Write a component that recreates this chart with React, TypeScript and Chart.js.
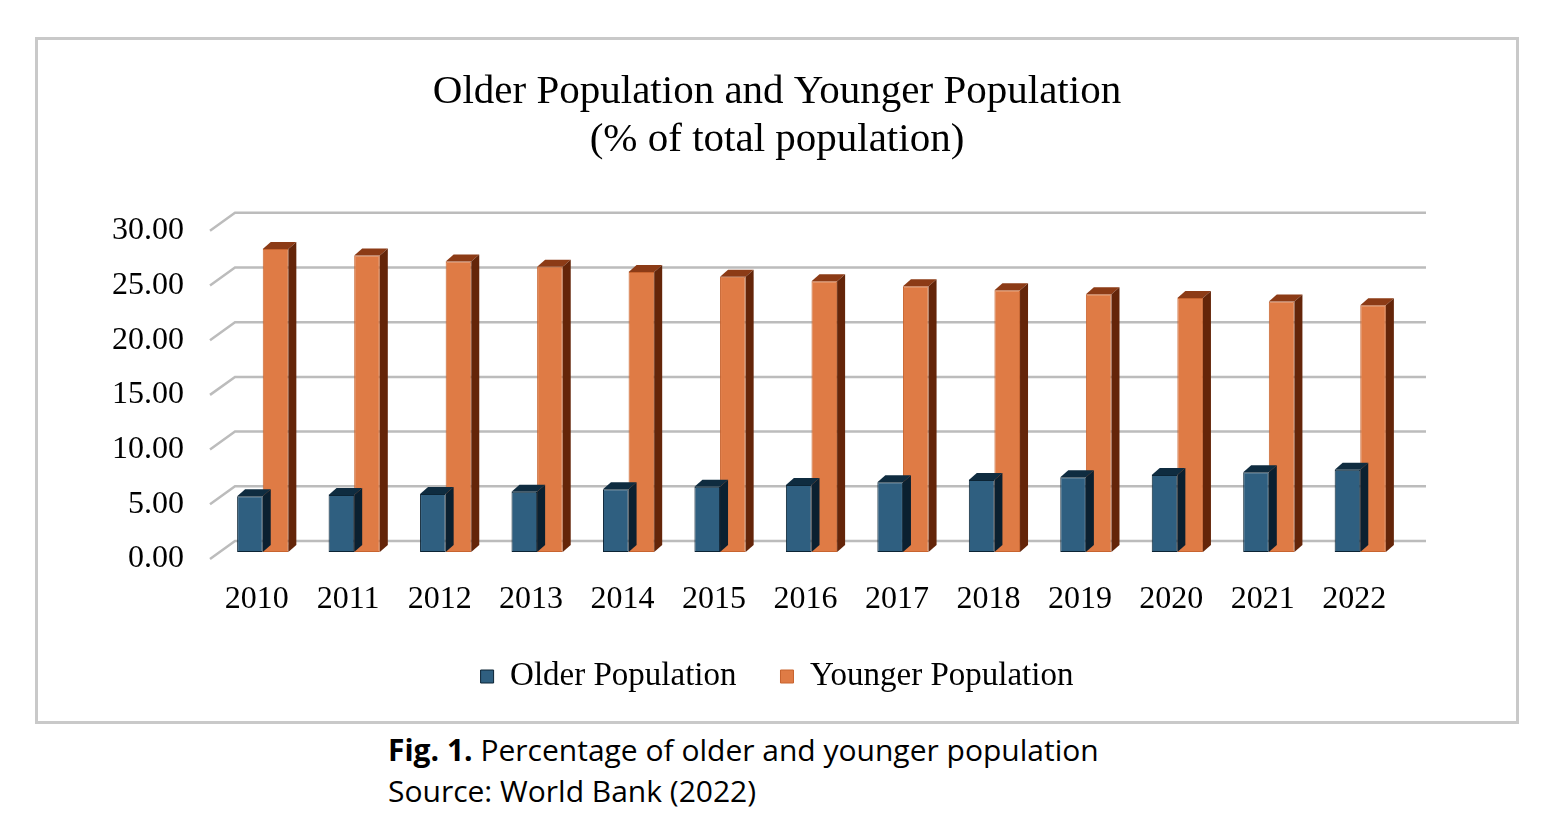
import { useEffect, useRef } from 'react'
import { Chart, BarController, BarElement, CategoryScale, LinearScale, Title, Legend } from 'chart.js'

Chart.register(BarController, BarElement, CategoryScale, LinearScale, Title, Legend);

const years = ['2010', '2011', '2012', '2013', '2014', '2015', '2016', '2017', '2018', '2019', '2020', '2021', '2022'];
const olderPopulation = [5.09, 5.22, 5.31, 5.50, 5.73, 5.97, 6.12, 6.37, 6.58, 6.83, 7.04, 7.29, 7.52];
const youngerPopulation = [27.70, 27.10, 26.55, 26.08, 25.60, 25.15, 24.75, 24.28, 23.92, 23.55, 23.22, 22.90, 22.56];
const yTicks = [0, 5, 10, 15, 20, 25, 30];

const SERIF = "'Liberation Serif', 'Times New Roman', serif";

// face colours for the fake 3D look
const faceColors = [
  { top: '#0f2c40', side: '#0b2030' },
  { top: '#8c3b16', side: '#642509' },
];

const DEPTH_X = 8;
const DEPTH_Y = -7;

const gridPlugin = {
  id: 'backWall',
  beforeDatasetsDraw(chart: Chart) {
    const { ctx, chartArea } = chart;
    const y = chart.scales.y;
    ctx.save();
    ctx.strokeStyle = '#bcbcbc';
    ctx.lineWidth = 2.5;
    for (const v of yTicks) {
      const py = y.getPixelForValue(v);
      ctx.beginPath();
      ctx.moveTo(chartArea.left - 7, py + 7);
      ctx.lineTo(chartArea.left + 18, py - 11);
      ctx.lineTo(chartArea.right + 20, py - 11);
      ctx.stroke();
    }
    ctx.restore();
  },
};

const boxPlugin = {
  id: 'bar3d',
  afterDatasetDraw(chart: Chart, args: { index: number }) {
    const { ctx } = chart;
    const meta = chart.getDatasetMeta(args.index);
    const col = faceColors[args.index];
    ctx.save();
    meta.data.forEach((el: any) => {
      const { x, y, base, width } = el.getProps(['x', 'y', 'base', 'width'], true);
      const l = x - width / 2;
      const r = x + width / 2;
      // top face
      ctx.fillStyle = col.top;
      ctx.beginPath();
      ctx.moveTo(l, y);
      ctx.lineTo(r, y);
      ctx.lineTo(r + DEPTH_X, y + DEPTH_Y);
      ctx.lineTo(l + DEPTH_X, y + DEPTH_Y);
      ctx.closePath();
      ctx.fill();
      // right side face
      ctx.fillStyle = col.side;
      ctx.beginPath();
      ctx.moveTo(r, y);
      ctx.lineTo(r + DEPTH_X, y + DEPTH_Y);
      ctx.lineTo(r + DEPTH_X, base + DEPTH_Y);
      ctx.lineTo(r, base);
      ctx.closePath();
      ctx.fill();
    });
    ctx.restore();
  },
};

function PopulationChart() {
  const canvasRef = useRef<HTMLCanvasElement>(null);
  const chartRef = useRef<Chart | null>(null);

  useEffect(() => {
    if (!canvasRef.current) return;
    chartRef.current?.destroy();
    chartRef.current = new Chart(canvasRef.current, {
      type: 'bar',
      data: {
        labels: years,
        datasets: [
          {
            label: 'Older Population',
            data: olderPopulation,
            backgroundColor: '#2f5f80',
            borderColor: '#0c2435',
            borderWidth: 1,
            borderSkipped: false,
            categoryPercentage: 0.56,
            barPercentage: 1.0,
          },
          {
            label: 'Younger Population',
            data: youngerPopulation,
            backgroundColor: '#df7b45',
            borderColor: '#c8642f',
            borderWidth: 1,
            borderSkipped: false,
            categoryPercentage: 0.56,
            barPercentage: 1.0,
          },
        ],
      },
      options: {
        responsive: true,
        maintainAspectRatio: false,
        animation: false,
        layout: { padding: { left: 0, right: 0, top: 28, bottom: 18 } },
        plugins: {
          title: {
            display: true,
            text: ['Older Population and Younger Population', '(% of total population)'],
            color: '#000',
            font: { family: SERIF, size: 41, weight: 'normal', lineHeight: 1.18 },
            padding: { top: 0, bottom: 59 },
          },
          legend: {
            display: true,
            position: 'bottom',
            labels: {
              color: '#000',
              font: { family: SERIF, size: 33 },
              boxWidth: 13,
              boxHeight: 13,
              padding: 44,
            },
          },
          tooltip: { enabled: false },
        },
        scales: {
          x: {
            clip: false,
            grid: { display: false },
            border: { display: false },
            afterFit: (s: any) => { s.height = 64; },
            ticks: {
              color: '#000',
              font: { family: SERIF, size: 32 },
              labelOffset: -6,
              padding: 20,
              maxRotation: 0,
            },
          },
          y: {
            min: 0,
            max: 30,
            clip: false,
            afterFit: (s: any) => { s.width = 179; },
            afterBuildTicks: (s: any) => { s.ticks = yTicks.map(v => ({ value: v })); },
            grid: { display: false },
            border: { display: false },
            ticks: {
              color: '#000',
              font: { family: SERIF, size: 32 },
              labelOffset: 7,
              padding: 25,
              callback: (v) => Number(v).toFixed(2),
            },
          },
          // empty right-hand axis that just reserves the space right of the floor
          yRight: {
            position: 'right',
            display: true,
            grid: { display: false },
            border: { display: false },
            ticks: { display: false },
            afterFit: (s: any) => { s.width = 110; },
          },
        },
      },
      plugins: [gridPlugin, boxPlugin],
    });
    return () => { chartRef.current?.destroy(); };
  }, []);

  return <canvas ref={canvasRef} />;
}

export default function App() {
  return (
    <div style={{ position: 'absolute', left: 0, top: 0, width: 1566, height: 832, background: '#fff' }}>
      <div style={{ position: 'absolute', left: 35, top: 37, width: 1484, height: 687, border: '3px solid #c9c9c9', boxSizing: 'border-box' }}>
        <div style={{ position: 'absolute', left: 0, top: 0, right: 0, bottom: 0 }}>
          <PopulationChart />
        </div>
      </div>
      <div style={{ position: 'absolute', left: 388, top: 729, fontFamily: "'Open Sans', 'Noto Sans', sans-serif", fontSize: 30, lineHeight: '41px', color: '#000' }}>
        <div><b>Fig. 1.</b> Percentage of older and younger population</div>
        <div>Source: World Bank (2022)</div>
      </div>
    </div>
  );
}
